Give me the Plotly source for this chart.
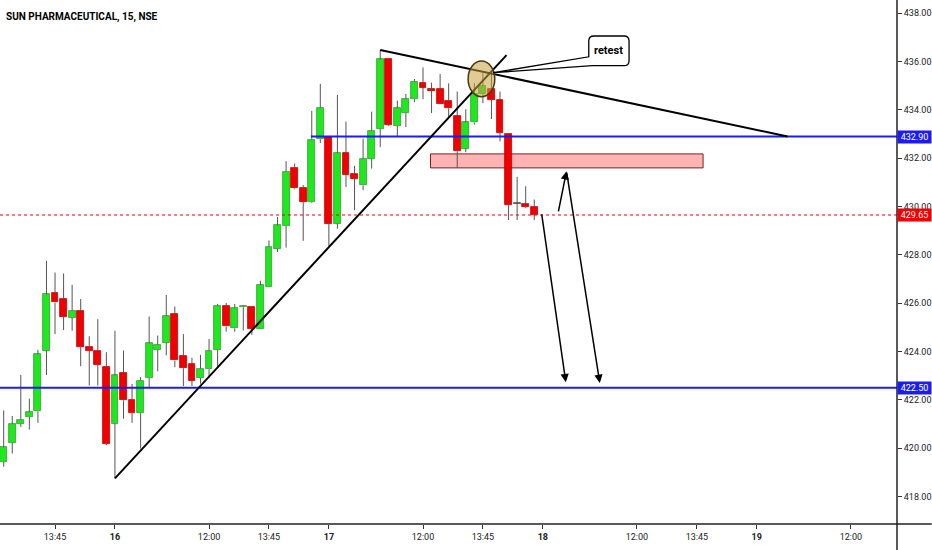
import plotly.graph_objects as go

# 15 min bars, index 0 = 09:15 on the 16th (25 bars per session)
bar_idx = list(range(-13, 50))
opens = [419.43, 420.22, 421.01, 421.29, 421.52, 424.04, 426.44, 426.17, 425.40, 425.69, 424.20, 424.04, 423.35,
         421.01, 423.12, 422.00, 421.45, 422.90, 424.08, 424.36, 425.55, 423.81, 423.49, 422.90, 423.26, 424.08,
         425.90, 424.96, 425.83, 425.86, 424.94, 426.69, 428.26, 429.19, 431.60, 430.78, 430.18, 432.79,
         432.90, 429.29, 432.22, 431.36, 430.88, 431.98, 433.21, 436.09, 433.34, 433.89, 434.44, 435.13,
         434.86, 434.86, 434.39, 433.76, 432.40, 433.48, 434.65, 434.86, 434.42, 433.00, 430.09, 430.09, 429.99]
highs = [421.56, 421.33, 423.03, 422.05, 424.07, 427.75, 427.27, 427.23, 426.76, 426.17, 424.63, 425.34, 423.97,
         424.86, 424.04, 422.66, 422.94, 425.45, 424.66, 426.34, 425.86, 424.72, 423.74, 423.86, 424.52, 425.97,
         426.01, 425.97, 425.90, 425.86, 426.93, 428.60, 429.57, 431.88, 431.78, 430.89, 433.96, 435.08,
         432.90, 434.62, 433.52, 431.69, 432.81, 433.93, 436.48, 436.09, 434.39, 434.66, 435.28, 435.76,
         435.13, 435.49, 435.10, 434.76, 434.03, 435.11, 435.52, 435.52, 434.76, 433.04, 431.23, 430.84, 430.29]
lows = [419.23, 419.78, 420.88, 420.77, 421.05, 423.03, 424.72, 424.89, 424.86, 423.39, 422.59, 422.59, 420.12,
        418.75, 421.22, 421.05, 419.98, 422.48, 423.18, 423.84, 423.35, 422.57, 422.57, 422.67, 422.90, 423.31,
        424.82, 424.82, 424.87, 424.69, 424.94, 426.69, 428.12, 428.30, 430.71, 428.58, 430.15, 432.63,
        428.37, 429.08, 430.81, 429.85, 430.68, 431.57, 432.46, 433.34, 432.90, 433.29, 434.32, 434.44,
        433.87, 434.25, 433.66, 431.60, 432.25, 433.39, 434.28, 433.62, 432.70, 429.44, 429.44, 429.95, 429.44]
closes = [420.04, 421.01, 421.18, 421.49, 423.89, 426.36, 426.03, 425.44, 425.69, 424.18, 424.04, 423.45, 420.19,
          423.01, 421.98, 421.45, 422.80, 424.34, 424.28, 425.46, 423.63, 423.31, 422.80, 423.29, 424.03, 425.90,
          425.04, 425.79, 425.86, 424.94, 426.75, 428.34, 429.22, 431.45, 430.75, 430.19, 432.77, 434.10,
          429.29, 432.22, 431.32, 431.14, 431.98, 433.14, 436.09, 433.38, 434.07, 434.46, 435.17, 434.92,
          434.80, 434.25, 434.07, 432.29, 433.48, 434.65, 434.97, 434.42, 433.04, 430.06, 430.09, 429.99, 429.65]

tick_vals = [-7, 0, 11, 18, 25, 36, 43, 50, 61, 68, 75, 86]
tick_text = ['13:45', '<b>16</b>', '12:00', '13:45', '<b>17</b>', '12:00', '13:45', '<b>18</b>',
             '12:00', '13:45', '<b>19</b>', '12:00']

resistance = 432.90
support = 422.50
last_price = 429.65

x_range = [-13.43, 91.39]
y_range = [416.86, 438.55]

GREEN = '#1ee81e'
RED = '#f00000'
WICK = '#555555'
BLUE = '#1c1cf0'
FONT = 'Roboto, sans-serif'

# wicks drawn above and below the body only
wx, wy = [], []
for i, o, h, l, c in zip(bar_idx, opens, highs, lows, closes):
    top, bot = max(o, c), min(o, c)
    wx += [i, i, None, i, i, None]
    wy += [h, top, None, bot, l, None]

body_base, body_h, body_col, body_line = [], [], [], []
for o, c in zip(opens, closes):
    body_base.append(min(o, c))
    body_h.append(max(abs(c - o), 0.04))
    if c > o:
        body_col.append(GREEN); body_line.append('#3a9a3a')
    elif c < o:
        body_col.append(RED); body_line.append('#c00000')
    else:
        body_col.append(WICK); body_line.append(WICK)

fig = go.Figure()
fig.add_trace(go.Scatter(x=wx, y=wy, mode='lines', line=dict(color=WICK, width=1),
                         hoverinfo='skip', showlegend=False))
fig.add_trace(go.Bar(x=bar_idx, y=body_h, base=body_base, width=0.8,
                     marker=dict(color=body_col, line=dict(color=body_line, width=0.8)),
                     showlegend=False))

# levels
fig.add_shape(type='line', xref='paper', x0=0, x1=1, y0=last_price, y1=last_price,
              line=dict(color=RED, width=1, dash='dot'))
fig.add_shape(type='line', xref='paper', x0=0, x1=1, y0=support, y1=support,
              line=dict(color=BLUE, width=2))
fig.add_shape(type='line', x0=22.9, x1=x_range[1], y0=resistance, y1=resistance,
              line=dict(color=BLUE, width=2))

# retest zone
fig.add_shape(type='rect', x0=36.88, x1=68.73, y0=431.60, y1=432.18, layer='below',
              fillcolor='#ffb4b4', line=dict(color='#7a2020', width=1))

# trend lines
fig.add_shape(type='line', x0=0, y0=418.75, x1=45.76, y1=436.27, line=dict(color='black', width=2))
fig.add_shape(type='line', x0=31, y0=436.48, x1=78.6, y1=432.90, line=dict(color='black', width=2))

# highlight circle
fig.add_shape(type='circle', x0=41.27, x1=44.39, y0=434.55, y1=436.02,
              fillcolor='rgba(200,160,60,0.55)', line=dict(color='#4a3a10', width=1.5))

# callout bubble
px_, py_ = 44.19, 435.54
bx0, bx1, by0, by1 = 55.37, 60.08, 435.83, 437.06
rx, ry = 0.6, 0.21
callout = (f'M {px_},{py_} L {bx0},436.20 L {bx0},{by1 - ry} Q {bx0},{by1} {bx0 + rx},{by1} '
           f'L {bx1 - rx},{by1} Q {bx1},{by1} {bx1},{by1 - ry} L {bx1},{by0 + ry} '
           f'Q {bx1},{by0} {bx1 - rx},{by0} L {bx0 + 0.4},{by0} Z')
fig.add_shape(type='path', path=callout, fillcolor='white', line=dict(color='black', width=1.3))
fig.add_annotation(x=(bx0 + bx1) / 2, y=(by0 + by1) / 2, text='<b>retest</b>', showarrow=False,
                   font=dict(family=FONT, size=11, color='black'))

# projected moves
arrows = [((49.85, 429.74), (52.69, 422.73)),
          ((51.79, 429.74), (52.77, 431.46)),
          ((52.77, 431.46), (56.66, 422.70))]
for (tx, ty), (hx, hy) in arrows:
    fig.add_annotation(x=hx, y=hy, ax=tx, ay=ty, xref='x', yref='y', axref='x', ayref='y',
                       text='', showarrow=True, arrowhead=2, arrowsize=1.1, arrowwidth=1.5,
                       arrowcolor='black')

# axis lines that run past the corner
fig.add_shape(type='line', xref='paper', yref='paper', x0=0, x1=932 / 897.3, y0=0, y1=0,
              line=dict(color='#222', width=1.5))
fig.add_shape(type='line', xref='paper', yref='paper', x0=1, x1=1, y0=-26 / 524, y1=1,
              line=dict(color='#222', width=1.5))

# price tags on the axis
for val, col in [(resistance, BLUE), (last_price, RED), (support, BLUE)]:
    fig.add_annotation(xref='paper', x=1.0, xanchor='left', y=val, yref='y', text=f'{val:.2f}',
                       showarrow=False, bgcolor=col, font=dict(family=FONT, size=9, color='white'),
                       width=31, height=10, borderpad=1)

fig.add_annotation(xref='paper', yref='paper', x=0.005, y=1 - 17 / 524, xanchor='left', yanchor='middle',
                   text='<b>SUN PHARMACEUTICAL, 15, NSE</b>', showarrow=False,
                   font=dict(family=FONT, size=10, color='black'))

fig.update_layout(
    width=932, height=550,
    margin=dict(l=0, r=35, t=0, b=26),
    paper_bgcolor='white', plot_bgcolor='white',
    showlegend=False, bargap=0,
    xaxis=dict(range=x_range, tickmode='array', tickvals=tick_vals, ticktext=tick_text,
               showgrid=False, zeroline=False, showline=False, ticks='outside', ticklen=4,
               tickcolor='#333', tickfont=dict(family=FONT, size=9, color='#222')),
    yaxis=dict(range=y_range, side='right', tick0=418, dtick=2, tickformat='.2f',
               showgrid=False, zeroline=False, showline=False, ticks='outside', ticklen=4,
               tickcolor='#333', tickfont=dict(family=FONT, size=9, color='#222'),
               automargin=False),
)

fig.write_html('out.html', config={'displayModeBar': False},
               post_script="document.body.style.margin='0';document.body.style.padding='0';")
